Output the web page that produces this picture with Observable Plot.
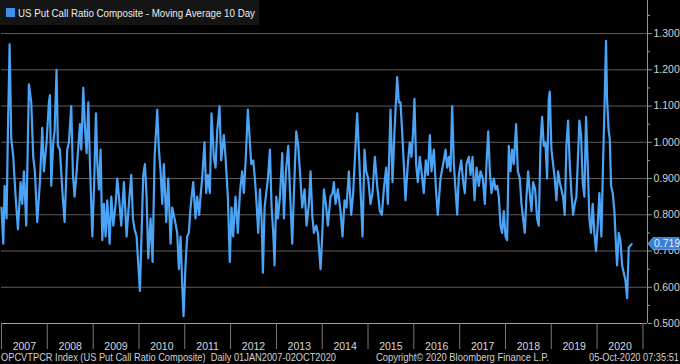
<!DOCTYPE html>
<html><head><meta charset="utf-8">
<script src="https://cdn.jsdelivr.net/npm/d3@7"></script>
<script src="https://cdn.jsdelivr.net/npm/@observablehq/plot@0.6"></script>
<style>
html,body{margin:0;padding:0;background:#000;}
#chart{width:680px;height:364px;overflow:hidden;}
</style></head><body><div id="chart"></div>
<script>
// Decimal-year timestamps of the sampled 10-day moving average
const years = [
2007.000,2007.039,2007.068,2007.111,2007.140,2007.177,2007.213,2007.257,2007.308,2007.359,
2007.417,2007.453,2007.490,2007.541,2007.599,2007.650,2007.693,2007.729,2007.780,2007.839,
2007.890,2007.926,2007.984,2008.035,2008.057,2008.086,2008.130,2008.159,2008.202,2008.231,
2008.275,2008.326,2008.377,2008.435,2008.471,2008.522,2008.559,2008.595,2008.639,2008.711,
2008.740,2008.784,2008.820,2008.857,2008.893,2008.929,2008.981,2009.017,2009.060,2009.090,
2009.126,2009.162,2009.199,2009.235,2009.271,2009.308,2009.359,2009.395,2009.439,2009.490,
2009.526,2009.562,2009.613,2009.671,2009.730,2009.780,2009.831,2009.868,2009.904,2009.948,
2010.020,2010.057,2010.093,2010.130,2010.166,2010.202,2010.253,2010.297,2010.341,2010.399,
2010.435,2010.472,2010.508,2010.544,2010.595,2010.639,2010.690,2010.726,2010.777,2010.835,
2010.871,2010.908,2010.944,2010.973,2011.016,2011.053,2011.089,2011.126,2011.184,2011.235,
2011.271,2011.315,2011.344,2011.380,2011.431,2011.468,2011.504,2011.548,2011.584,2011.635,
2011.672,2011.708,2011.759,2011.795,
2011.853,2011.890,2011.941,2011.984,2012.021,2012.057,
2012.108,2012.159,2012.203,2012.253,2012.290,2012.333,2012.377,2012.421,2012.450,2012.494,
2012.530,2012.567,2012.603,2012.639,2012.676,2012.705,2012.741,2012.777,2012.814,2012.858,
2012.894,2012.930,2012.959,2012.996,2013.032,2013.076,2013.127,2013.163,2013.207,2013.258,
2013.294,2013.345,2013.381,2013.432,2013.476,2013.512,2013.563,2013.614,2013.658,2013.709,
2013.745,2013.781,2013.818,2013.869,2013.905,2013.963,2013.999,2014.036,2014.079,2014.123,
2014.181,2014.225,2014.254,2014.290,2014.341,2014.399,2014.443,2014.487,2014.530,2014.581,
2014.632,2014.676,2014.727,2014.763,2014.799,2014.836,2014.880,2014.923,2014.960,2015.003,
2015.054,2015.098,2015.149,2015.200,2015.258,2015.302,2015.345,2015.396,2015.433,2015.491,
2015.534,2015.578,2015.636,2015.672,2015.709,2015.745,2015.781,2015.818,2015.869,2015.912,
2015.949,2015.985,2016.014,2016.050,2016.087,2016.130,2016.167,2016.218,2016.261,2016.305,
2016.349,2016.385,2016.436,2016.487,2016.523,2016.581,
2016.640,2016.690,2016.727,2016.763,
2016.799,2016.836,2016.872,2016.908,2016.945,2016.981,2017.032,2017.076,2017.112,2017.148,
2017.199,2017.236,2017.280,2017.323,2017.367,2017.418,2017.454,2017.505,2017.549,2017.585,
2017.622,2017.658,2017.694,2017.745,2017.782,2017.818,2017.854,2017.891,2017.927,2017.963,
2018.000,2018.036,2018.072,2018.109,2018.145,2018.181,2018.232,2018.269,2018.312,2018.349,
2018.385,2018.421,2018.458,2018.494,2018.530,2018.567,2018.603,2018.647,2018.690,2018.727,
2018.763,2018.799,2018.836,2018.872,2018.908,2018.945,2018.967,2019.003,2019.039,2019.076,
2019.112,2019.148,2019.185,2019.221,2019.257,2019.294,2019.330,2019.367,2019.403,2019.439,
2019.476,2019.512,2019.548,2019.577,2019.614,2019.650,2019.686,2019.723,2019.759,2019.795,
2019.832,2019.868,2019.904,2019.941,2019.977,2020.014,2020.050,2020.094,2020.130,2020.166,
2020.195,2020.217,2020.254,2020.276,2020.305,2020.341,2020.377,2020.414,2020.436,2020.472,
2020.508,2020.545,2020.581,2020.617,2020.654,2020.690,2020.753
];
// Put/call ratio values (10-day moving average)
const values = [
0.82,0.72,0.88,0.79,1.03,1.27,1.01,0.96,0.85,0.76,
0.89,0.83,0.92,0.77,1.16,1.11,0.96,0.92,0.78,0.89,
1.04,0.92,1.00,1.11,1.13,0.88,1.00,1.03,1.20,0.99,
0.98,0.87,0.78,0.98,1.00,1.10,0.91,0.85,0.92,1.05,
0.98,1.15,1.04,0.97,1.11,0.94,0.74,0.87,1.08,0.94,
0.87,0.98,0.73,0.83,0.74,0.84,0.72,0.85,0.77,0.83,
0.90,0.85,0.77,0.89,0.74,0.83,0.91,0.79,0.76,0.74,
0.59,0.75,0.91,0.94,0.85,0.68,0.79,0.67,0.96,1.09,
0.98,0.92,0.83,0.94,0.78,0.90,0.72,0.82,0.79,0.75,
0.65,0.74,0.61,0.52,0.66,0.74,0.75,0.82,0.89,0.79,
0.85,0.80,0.85,0.90,1.00,0.86,0.91,0.86,1.08,0.96,
0.93,1.03,1.10,0.95,
1.02,0.96,0.85,0.67,0.82,0.74,
0.85,0.75,0.86,0.92,0.86,0.96,1.09,1.00,0.94,0.95,
0.90,0.83,0.75,0.87,0.79,0.64,0.82,0.86,0.90,0.98,
0.82,0.75,0.66,0.85,0.79,0.85,0.97,0.79,0.92,0.99,
0.87,0.72,0.86,1.03,0.99,0.92,0.82,0.87,0.77,0.83,
0.92,0.80,0.75,0.77,0.75,0.65,0.74,0.87,0.83,0.77,
0.85,0.86,0.89,0.83,0.87,0.81,0.74,0.84,0.82,0.92,
0.80,0.86,0.99,1.08,0.98,0.87,0.74,0.98,0.92,0.90,
0.83,0.86,0.96,0.88,0.81,0.80,0.87,0.93,0.83,1.09,
0.89,1.03,1.18,1.11,1.11,1.03,0.94,0.84,0.94,1.00,
0.96,1.03,1.12,0.94,0.89,0.96,0.92,0.86,0.95,0.91,
1.02,0.92,0.98,0.86,0.80,0.90,
0.94,0.98,0.93,0.96,
0.92,1.10,0.94,0.87,0.80,0.91,0.95,0.89,0.86,0.94,
0.96,0.91,0.96,0.84,0.93,0.88,0.92,0.90,0.83,0.94,
1.03,0.92,0.86,0.90,0.87,0.88,0.85,0.77,0.75,0.81,
0.74,0.73,0.99,0.92,0.98,0.94,1.05,0.92,0.90,0.83,
0.79,0.75,0.85,0.92,0.86,0.81,0.89,0.87,0.79,0.77,
0.99,1.07,0.99,1.00,0.90,1.12,1.14,0.98,0.94,0.90,
0.84,0.92,0.89,0.87,0.85,0.80,0.99,1.06,0.94,0.86,
0.80,0.83,0.85,0.94,1.06,1.02,0.89,0.85,1.07,0.94,
0.79,0.75,0.83,0.75,0.70,0.77,0.86,0.74,0.94,1.12,
1.28,1.12,1.03,1.01,0.88,0.86,0.81,0.71,0.66,0.75,
0.73,0.66,0.64,0.62,0.57,0.71,0.719
];
const yearLabels = [2007,2008,2009,2010,2011,2012,2013,2014,2015,2016,2017,2018,2019,2020];
const yTicks = [0.5,0.6,0.7,0.8,0.9,1.0,1.1,1.2,1.3];
const yMinorTicks = [0.55,0.65,0.75,0.85,0.95,1.05,1.15,1.25,1.35];
const legendText = "US Put Call Ratio Composite - Moving Average 10 Day";
const footerLeft = "OPCVTPCR Index (US Put Call Ratio Composite)  Daily 01JAN2007-02OCT2020";
const footerMid = "Copyright\u00A9 2020 Bloomberg Finance L.P.";
const footerRight = "05-Oct-2020 07:35:51";
const lastLabel = "0.719";

function toDate(y) {
  const y0 = Math.floor(y);
  const a = Date.UTC(y0, 0, 1), b = Date.UTC(y0 + 1, 0, 1);
  return new Date(a + (y - y0) * (b - a));
}
const n = Math.min(years.length, values.length);
const data = [];
for (let i = 0; i < n; i++) data.push({date: toDate(years[i]), value: values[i]});

const xDomain = [new Date(Date.UTC(2007, 0, 1)), new Date(Date.UTC(2021, 1, 6))];
const yearStarts = yearLabels.concat([yearLabels[yearLabels.length - 1] + 1]).map(y => new Date(Date.UTC(y, 0, 1)));
const yearMids = yearLabels.map(y => new Date(Date.UTC(y, 6, 2)));
const gridTicks = yTicks.filter(t => t > 0.5);

const FONT = "'Liberation Sans', Arial, sans-serif";

const chart = Plot.plot({
  width: 680,
  height: 364,
  marginTop: 0,
  marginRight: 33,
  marginBottom: 41,
  marginLeft: 1,
  style: {background: "#000", color: "#d0d0d0", fontFamily: FONT, fontSize: "10px"},
  x: {type: "utc", domain: xDomain},
  y: {domain: [0.5, 1.3913]},
  marks: [
    Plot.gridY(gridTicks, {stroke: "#5e5e5e", strokeOpacity: 1}),
    Plot.ruleY([0.5], {stroke: "#a0a0a0"}),
    Plot.ruleX([xDomain[1]], {stroke: "#8a96a8"}),
    Plot.axisX({ticks: yearStarts, tickSize: 26, tickFormat: () => "", stroke: "#7a7a7a", label: null}),
    Plot.axisX({ticks: yearMids, tickSize: 0, tickPadding: 19, tickFormat: d => String(d.getUTCFullYear()), fill: "#d8d8d8", label: null, fontSize: 10.5}),
    Plot.axisY({anchor: "right", ticks: yTicks, tickFormat: d => d.toFixed(3), tickSize: 4, tickPadding: 2, label: null, stroke: "#8a96a8", fill: "#d4d4d4", fontSize: 10.5}),
    Plot.axisY({anchor: "right", ticks: yMinorTicks, tickSize: 2, tickFormat: () => "", label: null, stroke: "#8a96a8"}),
    Plot.line(data, {x: "date", y: "value", stroke: "#4aa3f5", strokeWidth: 2.2, strokeLinejoin: "round"})
  ]
});
document.getElementById("chart").appendChild(chart);

const svg = d3.select(chart);
const xs = chart.scale("x"), ys = chart.scale("y");
const xRight = xs.apply(xDomain[1]);

// Legend
const lg = svg.append("g").attr("text-anchor", "start");
lg.append("rect").attr("x", 0).attr("y", 0).attr("width", 259).attr("height", 25).attr("fill", "#141414");
lg.append("rect").attr("x", 6).attr("y", 8).attr("width", 9).attr("height", 9).attr("fill", "#3d8fe8");
lg.append("text").attr("x", 18).attr("y", 16.5).attr("fill", "#ececec").attr("text-anchor", "start")
  .attr("font-family", FONT).attr("font-size", 10.5)
  .attr("textLength", 237).attr("lengthAdjust", "spacingAndGlyphs").text(legendText);

// Last value tag
const lastVal = values[n - 1];
const ty = ys.apply(lastVal);
const tg = svg.append("g").attr("transform", `translate(${xRight},${ty})`).attr("text-anchor", "start");
tg.append("path").attr("d", "M1,0 L6,-6 H32 V6 H6 Z").attr("fill", "#3b7fd6").attr("stroke", "#79b1ee").attr("stroke-width", 0.8);
tg.append("text").attr("x", 7).attr("y", 0).attr("dy", "0.35em").attr("fill", "#e6f0ff").attr("text-anchor", "start")
  .attr("font-family", FONT).attr("font-size", 10.5).text(lastLabel);

// Footer
const fy = 361;
const ft = [[footerLeft, 1, 335, "start"], [footerMid, 376, 173, "start"], [footerRight, 679, 90, "end"]];
for (const [t, x, len, anchor] of ft) {
  svg.append("text").attr("x", x).attr("y", fy).attr("fill", "#d2d2d2")
    .attr("font-family", FONT).attr("font-size", 10.5).attr("text-anchor", anchor)
    .attr("textLength", len).attr("lengthAdjust", "spacingAndGlyphs").text(t);
}
</script>
</body></html>
